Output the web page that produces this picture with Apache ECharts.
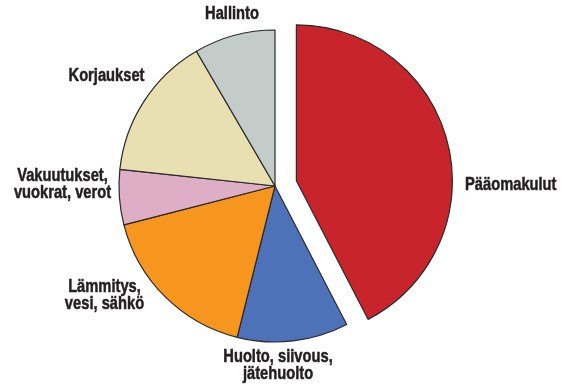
<!DOCTYPE html>
<html>
<head>
<meta charset="utf-8">
<script src="https://cdn.jsdelivr.net/npm/echarts@6/dist/echarts.min.js"></script>
<style>
  html, body { margin: 0; padding: 0; background: #ffffff; }
  #chart { width: 570px; height: 389px; }
</style>
</head>
<body>
<div id="chart"></div>
<script>
// Cost categories (clockwise from 12 o'clock) and their shares, %
const categories = [
  'Pääomakulut',
  'Huolto, siivous,\njätehuolto',
  'Lämmitys,\nvesi, sähkö',
  'Vakuutukset,\nvuokrat, verot',
  'Korjaukset',
  'Hallinto'
];
const shares = [42.4, 11.5, 17.1, 5.7, 14.9, 8.4];
const sliceColors = ['#c8242c', '#4e72b8', '#f7961e', '#deaec6', '#e8e0b0', '#c4ccc9'];

// Where each category name sits (text-block centre, or left edge for align 'left')
const labelSpots = [
  { x: 465, y: 185.5, align: 'left' },
  { x: 278, y: 366,   align: 'center' },
  { x: 104.5, y: 295.5, align: 'center' },
  { x: 62.5, y: 184.5, align: 'center' },
  { x: 106.5, y: 76.5, align: 'center' },
  { x: 232, y: 14.5,  align: 'center' }
];

const chart = echarts.init(document.getElementById('chart'), null, { renderer: 'canvas' });

const pieData = categories.map((name, i) => ({
  name: name,
  value: shares[i],
  selected: i === 0,
  itemStyle: { color: sliceColors[i] }
}));

// Condensed heavy captions: a bold face squeezed horizontally, with a thin outline
const captions = categories.map((name, i) => ({
  type: 'text',
  x: labelSpots[i].x,
  y: labelSpots[i].y,
  scaleX: 0.84,
  silent: true,
  style: {
    text: name,
    fill: '#231f20',
    stroke: '#231f20',
    lineWidth: 0.5,
    font: 'bold 17.5px "Liberation Sans", Arial, sans-serif',
    lineHeight: 17,
    align: labelSpots[i].align,
    verticalAlign: 'middle'
  }
}));

chart.setOption({
  animation: false,
  backgroundColor: '#ffffff',
  graphic: captions,
  series: [{
    type: 'pie',
    center: [275, 186],
    radius: 156,
    startAngle: 90,
    clockwise: true,
    selectedMode: 'single',
    selectedOffset: 22,
    emphasis: { disabled: true },
    itemStyle: { borderColor: '#2a2a2a', borderWidth: 1.2 },
    label: { show: false },
    labelLine: { show: false },
    data: pieData
  }]
});
</script>
</body>
</html>
